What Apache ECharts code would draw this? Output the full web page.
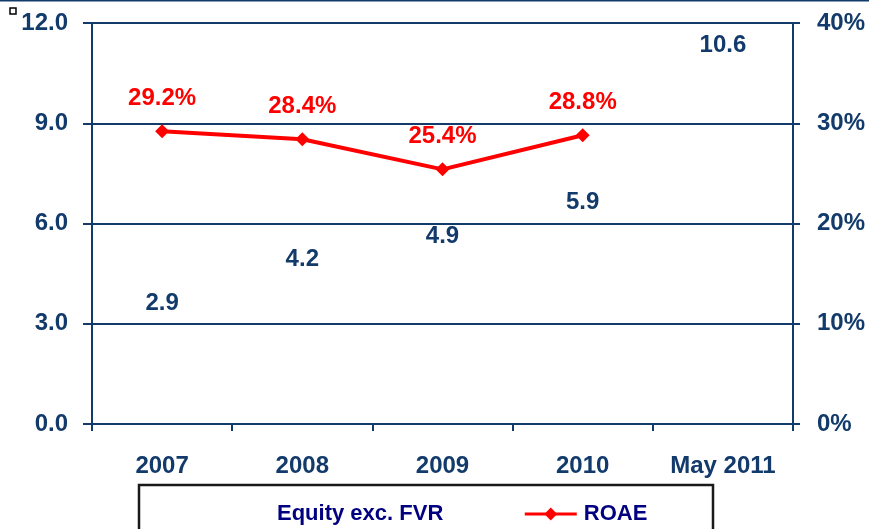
<!DOCTYPE html>
<html>
<head>
<meta charset="utf-8">
<script src="https://cdn.jsdelivr.net/npm/echarts@6/dist/echarts.min.js"></script>
<style>
  html, body { margin: 0; padding: 0; background: #ffffff; }
  #chart { width: 869px; height: 529px; }
</style>
</head>
<body>
<div id="chart"></div>
<script>
// Years on the horizontal axis
const categories = ['2007', '2008', '2009', '2010', 'May 2011'];
// Equity excluding fair value reserve (left axis)
const equity = [2.9, 4.2, 4.9, 5.9, 10.6];
// Return on average equity (right axis, fraction)
const roae = [0.292, 0.284, 0.254, 0.288, null];

const NAVY = '#123a6b';
const FONT = '"Liberation Sans", Arial, sans-serif';

const chart = echarts.init(document.getElementById('chart'), null, { renderer: 'canvas' });

chart.setOption({
  animation: false,
  backgroundColor: '#ffffff',
  textStyle: { fontFamily: FONT },
  grid: { left: 92, right: 76, top: 23, bottom: 105 },
  legend: {
    left: 213,
    top: 498,
    itemWidth: 52,
    itemHeight: 16,
    itemGap: 80,
    textStyle: { color: '#000080', fontSize: 22, fontWeight: 'bold', fontFamily: FONT, padding: [0, 0, 0, 2] },
    data: [
      { name: 'Equity exc. FVR', icon: 'rect', itemStyle: { color: 'rgba(0,0,0,0)' } },
      { name: 'ROAE', lineStyle: { width: 3, color: '#ff0000' } }
    ]
  },
  xAxis: {
    type: 'category',
    data: categories,
    boundaryGap: true,
    axisLine: { lineStyle: { color: NAVY, width: 2 } },
    axisTick: { show: true, alignWithLabel: false, length: 7, lineStyle: { color: NAVY, width: 2 } },
    axisLabel: { color: NAVY, fontSize: 24, fontWeight: 'bold', margin: 30, fontFamily: FONT }
  },
  yAxis: [
    {
      type: 'value',
      min: 0, max: 12, interval: 3,
      axisLine: { show: true, lineStyle: { color: NAVY, width: 2 } },
      axisTick: { show: true, length: 9, lineStyle: { color: NAVY, width: 2 } },
      splitLine: { show: true, lineStyle: { color: NAVY, width: 2 } },
      axisLabel: {
        color: NAVY, fontSize: 24, fontWeight: 'bold', margin: 24, fontFamily: FONT,
        formatter: v => v.toFixed(1)
      }
    },
    {
      type: 'value',
      min: 0, max: 0.4, interval: 0.1,
      axisLine: { show: true, lineStyle: { color: NAVY, width: 2 } },
      axisTick: { show: true, length: 7, lineStyle: { color: NAVY, width: 2 } },
      splitLine: { show: false },
      axisLabel: {
        color: NAVY, fontSize: 24, fontWeight: 'bold', margin: 24, fontFamily: FONT,
        formatter: v => Math.round(v * 100) + '%'
      }
    }
  ],
  series: [
    {
      name: 'Equity exc. FVR',
      type: 'bar',
      yAxisIndex: 0,
      data: equity,
      barWidth: '50%',
      itemStyle: { color: 'rgba(0,0,0,0)' },
      label: {
        show: true,
        position: 'top',
        distance: 12,
        color: NAVY,
        fontSize: 24,
        fontWeight: 'bold',
        fontFamily: FONT,
        formatter: p => p.value.toFixed(1)
      },
      z: 3
    },
    {
      name: 'ROAE',
      type: 'line',
      yAxisIndex: 1,
      data: roae,
      color: '#ff0000',
      lineStyle: { color: '#ff0000', width: 4 },
      symbol: 'diamond',
      symbolSize: 14,
      itemStyle: { color: '#ff0000' },
      label: {
        show: true,
        position: 'top',
        distance: 14,
        color: '#ff0000',
        fontSize: 24,
        fontWeight: 'bold',
        fontFamily: FONT,
        formatter: p => (p.value * 100).toFixed(1) + '%'
      },
      z: 4
    }
  ],
  graphic: [
    // top rule
    { type: 'line', shape: { x1: 0, y1: 0.5, x2: 869, y2: 0.5 }, style: { stroke: NAVY, lineWidth: 2 } },
    // small marker box
    { type: 'rect', shape: { x: 10, y: 8, width: 6, height: 6 }, style: { fill: '#ffffff', stroke: '#000000', lineWidth: 1.5 } },
    // legend frame
    { type: 'rect', shape: { x: 139, y: 485, width: 574, height: 60 }, style: { fill: 'none', stroke: '#1a1a1a', lineWidth: 2.5 }, z: -1 }
  ]
});
</script>
</body>
</html>
